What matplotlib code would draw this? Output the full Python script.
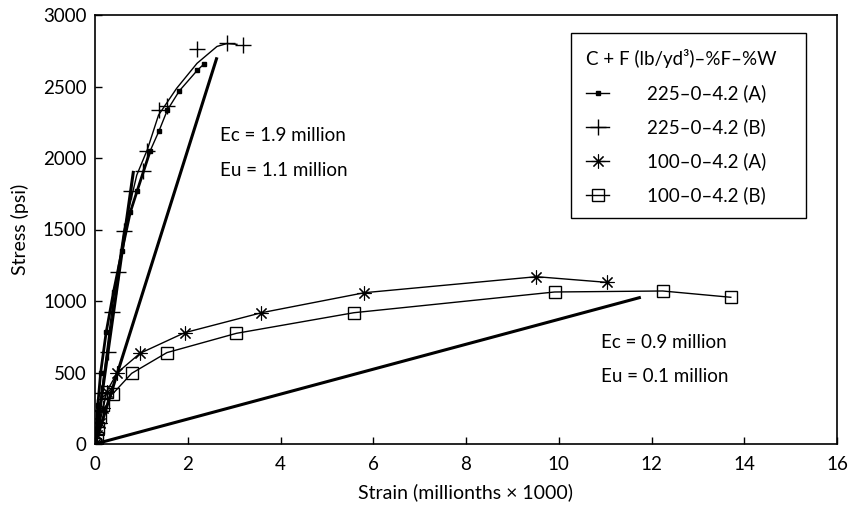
import matplotlib
matplotlib.use("Agg")
import matplotlib.pyplot as plt
from matplotlib.patches import Rectangle

plt.rcParams["font.family"] = ["Lato", "DejaVu Sans"]

# 225 lb/yd3 mixes (strain in millionths x 1000, stress in psi)
strain_225a = [0, 0.03, 0.06, 0.12, 0.24, 0.40, 0.58, 0.76, 0.91, 1.19, 1.38, 1.56, 1.82, 2.21, 2.35]
stress_225a = [0, 100, 270, 494, 780, 1065, 1348, 1620, 1771, 2050, 2189, 2335, 2470, 2615, 2657]

strain_225b = [0, 0.04, 0.09, 0.14, 0.27, 0.36, 0.49, 0.62, 0.77, 1.03, 1.13, 1.37, 1.55, 2.20, 2.84, 3.20]
stress_225b = [0, 120, 240, 355, 640, 925, 1205, 1490, 1770, 1908, 2051, 2336, 2364, 2760, 2805, 2790]
# fitted curve for 225 (B)
fit_strain_225b = [0, 0.14, 0.36, 0.62, 0.90, 1.13, 1.37, 1.76, 2.20, 2.63, 2.84, 3.06]
fit_stress_225b = [0, 355, 925, 1490, 1880, 2060, 2300, 2487, 2662, 2780, 2800, 2795]

# 100 lb/yd3 mixes
strain_100a = [0, 0.04, 0.10, 0.18, 0.25, 0.48, 0.97, 1.93, 3.59, 5.81, 9.52, 11.05]
stress_100a = [0, 60, 150, 250, 366, 498, 634, 778, 918, 1058, 1170, 1130]

strain_100b = [0, 0.05, 0.07, 0.11, 0.18, 0.25, 0.38, 0.79, 1.55, 3.05, 5.58, 9.91, 12.24, 13.71]
stress_100b = [0, 40, 112, 191, 273, 366, 350, 494, 639, 774, 918, 1063, 1070, 1026]

# modulus lines
ec_hi_strain = [0, 0.83]
ec_hi_stress = [0, 1910]
eu_hi_strain = [0, 2.63]
eu_hi_stress = [0, 2704]
eu_lo_strain = [0, 11.77]
eu_lo_stress = [0, 1026]

labels = ["225\u20130\u20134.2 (A)", "225\u20130\u20134.2 (B)",
          "100\u20130\u20134.2 (A)", "100\u20130\u20134.2 (B)"]

fig = plt.figure(figsize=(8.49, 5.05), dpi=100)
ax = fig.add_axes([95 / 849, 61 / 505, 742 / 849, 429 / 505])

# thick lines
ax.plot(ec_hi_strain, ec_hi_stress, color="black", lw=2.2, solid_capstyle="butt")
ax.plot(eu_hi_strain, eu_hi_stress, color="black", lw=2.2, solid_capstyle="butt")
ax.plot(eu_lo_strain, eu_lo_stress, color="black", lw=2.2, solid_capstyle="butt")

# 225 (A): heavy lower part, light upper part
ax.plot(strain_225a[:10], stress_225a[:10], color="black", lw=2.0)
ax.plot(strain_225a[9:], stress_225a[9:], color="black", lw=1.0)
ax.plot(strain_225a, stress_225a, ls="none", marker="s", ms=3.2, color="black")
ax.plot(fit_strain_225b, fit_stress_225b, color="black", lw=1.0)
ax.plot(strain_225b, stress_225b, ls="none", marker="+", ms=12, mew=1.0, color="black")
ax.plot(strain_100a, stress_100a, color="black", lw=1.0)
ax.plot(strain_100a, stress_100a, ls="none", marker=(8, 2, 0), ms=10, mew=0.8, color="black")
ax.plot(strain_100b, stress_100b, color="black", lw=1.0)
ax.plot(strain_100b, stress_100b, ls="none", marker="s", ms=9, mew=1.0, mfc="none", color="black")

# legend handles
h1, = ax.plot([], [], color="black", lw=1.0, marker="s", ms=3.2)
h2, = ax.plot([], [], color="black", lw=1.0, marker="+", ms=12, mew=1.0)
h3, = ax.plot([], [], color="black", lw=1.0, marker=(8, 2, 0), ms=10, mew=0.8)
h4, = ax.plot([], [], color="black", lw=1.0, marker="s", ms=9, mew=1.0, mfc="none")
leg = ax.legend([h1, h2, h3, h4], labels,
                title="C + F (lb/yd\u00b3)\u2013%F\u2013%W",
                loc="upper left", bbox_to_anchor=(0.6617, 0.92), borderaxespad=0,
                frameon=False, fontsize=13.5, title_fontsize=13.5,
                handlelength=1.25, handletextpad=2.0, labelspacing=0.86,
                borderpad=0, alignment="left")

# legend box
ax.add_patch(Rectangle((0.6415, 0.527), 0.3165, 0.431, transform=ax.transAxes,
                       fill=False, edgecolor="black", lw=1.0, zorder=5))

ax.text(2.70, 2154, "Ec = 1.9 million", fontsize=13.5, va="center")
ax.text(2.70, 1916, "Eu = 1.1 million", fontsize=13.5, va="center")
ax.text(10.91, 708, "Ec = 0.9 million", fontsize=13.5, va="center")
ax.text(10.91, 475, "Eu = 0.1 million", fontsize=13.5, va="center")

ax.set_xlim(0, 16)
ax.set_ylim(0, 3000)
ax.set_xticks(range(0, 17, 2))
ax.set_yticks(range(0, 3001, 500))
ax.tick_params(direction="in", length=5, width=1, labelsize=13.5, pad=6)
ax.tick_params(axis="x", pad=9)
for s in ax.spines.values():
    s.set_linewidth(1.2)
ax.set_xlabel("Strain (millionths \u00d7 1000)", fontsize=14, labelpad=7)
ax.set_ylabel("Stress (psi)", fontsize=14, labelpad=10)

plt.savefig("out.png", dpi=100)
